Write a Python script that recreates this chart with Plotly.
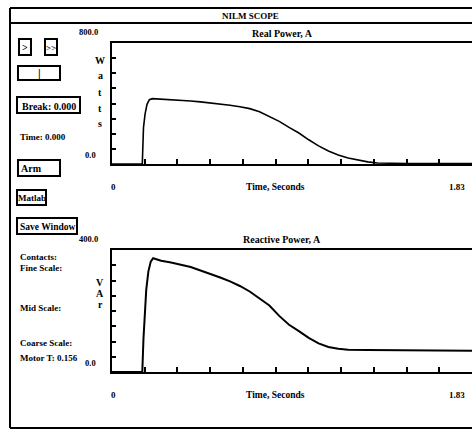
import plotly.graph_objects as go

W, H = 472, 433

# ---------------- data ----------------
t_real = [0, 0.154, 0.160, 0.168, 0.178, 0.190, 0.205, 0.24, 0.28, 0.32, 0.36, 0.40,
          0.45, 0.50, 0.55, 0.60, 0.65, 0.70, 0.75, 0.80, 0.85, 0.90, 0.95, 1.00,
          1.05, 1.10, 1.15, 1.20, 1.25, 1.30, 1.35, 1.40, 1.50, 1.60, 1.70, 1.83]
real_w = [0, 0, 240, 330, 395, 425, 432, 430, 428, 425, 421, 417,
          411, 404, 396, 388, 378, 366, 345, 316, 282, 242, 205, 160,
          120, 86, 60, 40, 26, 14, 7, 4, 3, 3, 3, 3]

t_reac = [0, 0.154, 0.160, 0.167, 0.174, 0.185, 0.197, 0.209, 0.25, 0.30, 0.35, 0.40,
          0.45, 0.50, 0.55, 0.60, 0.65, 0.70, 0.75, 0.80, 0.85, 0.90, 0.95, 1.00,
          1.05, 1.10, 1.15, 1.20, 1.30, 1.40, 1.50, 1.60, 1.70, 1.83]
reac_var = [0, 0, 110, 200, 269, 330, 362, 373, 365, 359, 352, 344,
            333, 322, 310, 297, 282, 264, 242, 218, 184, 155, 134, 112,
            94, 82, 76, 73, 72, 72, 71, 71, 70, 70]

t_max = 1.83
real_max = 800.0
reac_max = 400.0
n_xticks = 11
n_yticks = 8

window_title = "NILM SCOPE"
plot_titles = ["Real Power, A", "Reactive Power, A"]
x_title = "Time, Seconds"
x_end_labels = ["0", "1.83"]
y_top_labels = ["800.0", "400.0"]
y_bot_labels = ["0.0", "0.0"]
y_titles = ["Watts", "VAr"]

button_labels = [">", ">>", "|", "Break: 0.000", "Arm", "Matlab", "Save Window"]
panel_texts = ["Time: 0.000", "Contacts:", "Fine Scale:", "Mid Scale:",
               "Coarse Scale:", "Motor T: 0.156"]

# ---------------- helpers ----------------
def px(x):
    return x / W

def py(y):
    return 1 - y / H

FONT = "Liberation Serif"

def txt(x, y, s, size=10, xanchor="left", bold=True):
    return dict(x=px(x), y=py(y), xref="paper", yref="paper", text=s, showarrow=False,
                xanchor=xanchor, yanchor="middle",
                font=dict(family=FONT, size=size, color="black",
                          weight="bold" if bold else "normal"))

fig = go.Figure()

fig.add_trace(go.Scatter(x=t_real, y=real_w, mode="lines", xaxis="x", yaxis="y",
                         line=dict(color="black", width=1.6), showlegend=False))
fig.add_trace(go.Scatter(x=t_reac, y=reac_var, mode="lines", xaxis="x2", yaxis="y2",
                         line=dict(color="black", width=2.0), showlegend=False))

plot_left = 112
top_plot = (43, 164)
bot_plot = (250, 372)

def xax(anchor):
    return dict(domain=[px(plot_left), 1.0], range=[0, t_max], anchor=anchor,
                showline=True, linewidth=2, linecolor="black", mirror=True,
                ticks="inside", ticklen=5, tickwidth=1.5, tickcolor="black",
                tick0=0, dtick=t_max / n_xticks, showticklabels=False,
                showgrid=False, zeroline=False, fixedrange=True)

def yax(anchor, dom, ymax):
    return dict(domain=[py(dom[1]), py(dom[0])], range=[0, ymax], anchor=anchor,
                showline=True, linewidth=2, linecolor="black", mirror=False,
                ticks="inside", ticklen=4, tickwidth=1.5, tickcolor="black",
                tick0=0, dtick=ymax / n_yticks, showticklabels=False,
                showgrid=False, zeroline=False, fixedrange=True)

annotations = []
shapes = []

# window frame
frame_l, frame_t, frame_b = 10, 8, 428
for (x0, y0, x1, y1) in [(frame_l, frame_t, W, frame_t), (frame_l, 23, W, 23),
                         (frame_l, frame_t, frame_l, frame_b), (frame_l, frame_b, W, frame_b)]:
    shapes.append(dict(type="line", xref="paper", yref="paper", x0=px(x0), x1=px(x1),
                       y0=py(y0), y1=py(y1), line=dict(color="black", width=2)))
annotations.append(txt(250, 16, window_title, size=9, xanchor="center"))

# plot texts
for i, (dom, title) in enumerate(zip([top_plot, bot_plot], plot_titles)):
    top, bot = dom
    annotations.append(txt(282, top - 10, title, size=10, xanchor="center"))
    annotations.append(txt(275, bot + 23, x_title, size=9.5, xanchor="center"))
    annotations.append(txt(113, bot + 23, x_end_labels[0], size=9, xanchor="center"))
    annotations.append(txt(467, bot + 23, x_end_labels[1], size=9, xanchor="right"))
    annotations.append(txt(100, top - 11, y_top_labels[i], size=8.5, xanchor="right"))
    annotations.append(txt(98, bot - 9, y_bot_labels[i], size=8.5, xanchor="right"))

# vertical y titles
for k, ch in enumerate(y_titles[0]):
    annotations.append(txt(100, 60 + k * 16, ch, size=10, xanchor="center"))
for k, ch in enumerate(y_titles[1]):
    annotations.append(txt(100, 282 + k * 11, ch, size=10, xanchor="center"))

# buttons: (x0, y0, x1, y1, label alignment)
button_boxes = [(19, 39, 31, 55, "center"), (45, 39, 57, 55, "center"),
                (18, 66, 60, 80, "center"), (17, 97, 80, 113, "center"),
                (18, 160, 60, 176, "left"), (17, 190, 46, 205, "center"),
                (17, 218, 77, 234, "center")]
button_sizes = [10, 9, 12, 10, 10, 9, 9.5]
for (x0, y0, x1, y1, al), lab, fs in zip(button_boxes, button_labels, button_sizes):
    shapes.append(dict(type="rect", xref="paper", yref="paper", x0=px(x0), x1=px(x1),
                       y0=py(y1), y1=py(y0), line=dict(color="black", width=2)))
    if al == "center":
        annotations.append(txt((x0 + x1) / 2, (y0 + y1) / 2 + 1, lab, size=fs, xanchor="center"))
    else:
        annotations.append(txt(x0 + 1, (y0 + y1) / 2, lab, size=fs, xanchor="left"))

panel_y = [137, 257, 268, 308, 343, 358]
for yv, s in zip(panel_y, panel_texts):
    annotations.append(txt(18, yv, s, size=9))

fig.update_layout(
    width=W, height=H, margin=dict(l=0, r=0, t=0, b=0),
    paper_bgcolor="white", plot_bgcolor="white",
    xaxis=xax("y"), yaxis=yax("x", top_plot, real_max),
    xaxis2=xax("y2"), yaxis2=yax("x2", bot_plot, reac_max),
    annotations=annotations, shapes=shapes, showlegend=False,
)

fig.write_html("out.html", config={"displayModeBar": False},
               post_script="document.body.style.margin='0px';document.body.style.overflow='hidden';")
